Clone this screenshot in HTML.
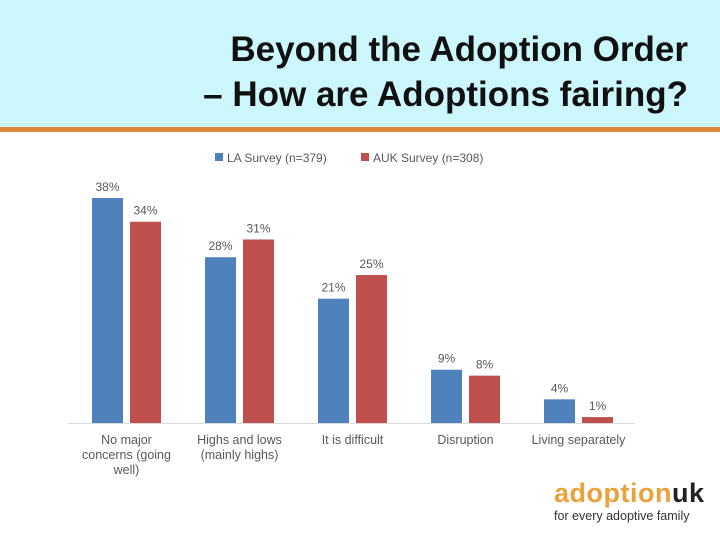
<!DOCTYPE html>
<html><head><meta charset="utf-8"><style>
body{margin:0;width:720px;height:540px;background:#fff;position:relative;overflow:hidden;font-family:"Liberation Sans",sans-serif}
#hdr{position:absolute;left:0;top:0;width:720px;height:127px;background:#ccf7fc}
#line{position:absolute;left:0;top:127px;width:720px;height:5px;background:#e0883a}
#title{position:absolute;right:32px;top:27px;text-align:right;font-size:35px;line-height:45px;color:#111;font-weight:bold;white-space:nowrap}
#logo{position:absolute;left:554px;top:478px}
</style></head><body>
<div id="hdr"></div>
<div id="line"></div>
<div id="title">Beyond the Adoption Order<br>– How are Adoptions fairing?</div>
<svg id="chart" width="720" height="540" style="position:absolute;left:0;top:0"></svg>
<div id="logo">
<div style="font-size:27px;font-weight:bold;letter-spacing:0.5px;line-height:30px"><span style="color:#eaa23a">adoption</span><span style="color:#222">uk</span></div>
<div style="font-size:12.5px;color:#333;margin-top:1px">for every adoptive family</div>
</div>
<script>
const categories=[["No major","concerns (going","well)"],["Highs and lows","(mainly highs)"],["It is difficult"],["Disruption"],["Living separately"]];
const laValues=[38,28,21,9,4];
const aukValues=[34,31,25,8,1];
const seriesNames=["LA Survey (n=379)","AUK Survey (n=308)"];
const svg=document.getElementById('chart');
const NS='http://www.w3.org/2000/svg';
const baseY=423,pxPer=5.92,x0=92,groupW=113,barW=31,gap=7;
const y=v=>baseY-v*pxPer;
function mk(t,a){const e=document.createElementNS(NS,t);for(const k in a)e.setAttribute(k,a[k]);svg.appendChild(e);return e;}
const ax=mk('line',{x1:68,x2:635,y1:baseY+0.5,y2:baseY+0.5,stroke:'#d9d9d9','stroke-width':1});


const cols=['#4f81bd','#c0504d'];
[laValues,aukValues].forEach((vals,s)=>{
 vals.forEach((v,i)=>{
  const bx=x0+i*groupW+s*(barW+gap);
  const r=mk('rect',{x:bx,y:y(v),width:barW,height:v*pxPer,fill:cols[s]});
  
  
  const t=mk('text',{x:bx+barW/2,y:y(v)-7,'text-anchor':'middle','font-size':12,fill:'#595959'});
  t.textContent=v+'%';
  
  
 });
});
categories.forEach((lines,i)=>{
 const cx=x0+i*groupW+(barW*2+gap)/2;
 lines.forEach((ln,j)=>{
  const t=mk('text',{x:cx,y:444+j*15,'text-anchor':'middle','font-size':12.5,fill:'#595959'});
  t.textContent=ln;
  
  
 });
});
const lx=[215,361];
seriesNames.forEach((n,s)=>{
 const r=mk('rect',{x:lx[s],y:153,width:8,height:8,fill:cols[s]});
 
 
 const t=mk('text',{x:lx[s]+12,y:162,'font-size':12,fill:'#595959'});
 t.textContent=n;
 
 
});
</script>
</body></html>
